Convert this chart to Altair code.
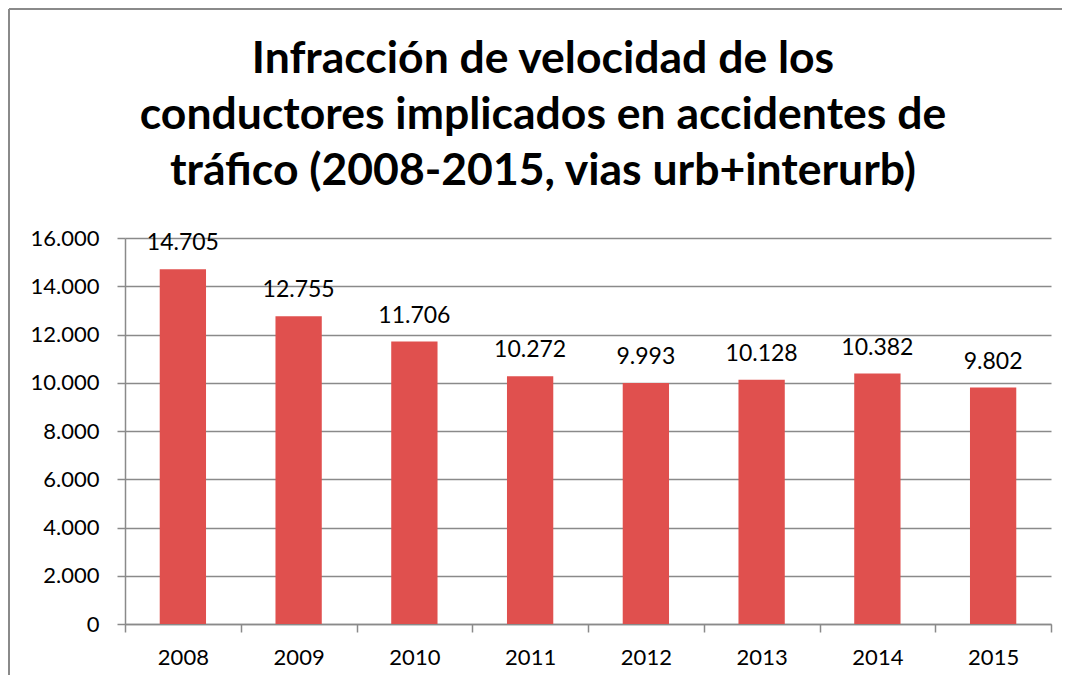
import altair as alt
import pandas as pd

years = ["2008", "2009", "2010", "2011", "2012", "2013", "2014", "2015"]
values = [14705, 12755, 11706, 10272, 9993, 10128, 10382, 9802]
y_ticks = [0, 2000, 4000, 6000, 8000, 10000, 12000, 14000, 16000]
title_lines = [
    "Infracción de velocidad de los",
    "conductores implicados en accidentes de",
    "tráfico (2008-2015, vias urb+interurb)",
]

df = pd.DataFrame({"year": years, "value": values})

FONT = "Lato"
GRID = "#8a8a8a"
BAR = "#E0504E"
FMT = "replace(format(datum.value, ','), ',', '.')"

x_enc = alt.X(
    "year:N", sort=years, title=None,
    scale=alt.Scale(paddingInner=0, paddingOuter=0),
    axis=alt.Axis(labelAngle=0, tickBand="extent", tickSize=8, tickColor=GRID,
                  tickWidth=1.5, domainColor=GRID, domainWidth=1.5,
                  labelFontSize=22, labelFont=FONT, labelColor="black",
                  labelPadding=15),
)
y_enc = alt.Y(
    "value:Q", title=None,
    scale=alt.Scale(domain=[0, 16000], nice=False),
    axis=alt.Axis(values=y_ticks, labelExpr=FMT, tickSize=8, tickColor=GRID,
                  tickWidth=1.5, domainColor=GRID, domainWidth=1.5,
                  gridColor=GRID, gridWidth=1.5, gridOpacity=1,
                  labelFontSize=22, labelFont=FONT, labelColor="black",
                  labelPadding=18),
)

one = pd.DataFrame({"k": [0]})
frame_top = alt.Chart(one).mark_rule(color=GRID, strokeWidth=2).encode(
    x=alt.value(-116), x2=alt.value(960), y=alt.value(-229))
frame_left = alt.Chart(one).mark_rule(color=GRID, strokeWidth=2).encode(
    x=alt.value(-116), y=alt.value(-229), y2=alt.value(470))

bars = alt.Chart(df).mark_bar(color=BAR, width=alt.RelativeBandSize(0.4)).encode(
    x=x_enc, y=y_enc
)

text = alt.Chart(df).transform_calculate(lbl=FMT).mark_text(
    font=FONT, fontSize=23, baseline="alphabetic", dy=-19, color="black"
).encode(x=alt.X("year:N", sort=years), y="value:Q", text="lbl:N")

chart = alt.layer(frame_top, frame_left, bars, text).properties(
    width=926, height=386,
    autosize=alt.AutoSizeParams(type="none"),
    padding={"left": 117, "top": 230, "right": 11, "bottom": 51},
    title=alt.TitleParams(text=title_lines, font=FONT, fontSize=44.5,
                          fontWeight="bold", lineHeight=56, anchor="middle",
                          dx=-45, dy=190, color="black"),
).configure_view(strokeWidth=0)

chart.save("out.html", embed_options={"renderer": "svg", "actions": False})
